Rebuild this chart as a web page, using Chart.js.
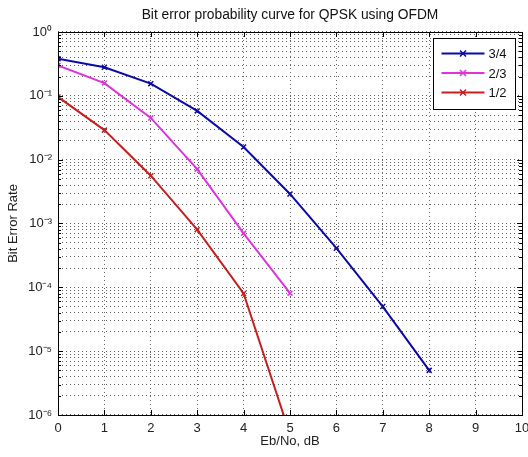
<!DOCTYPE html>
<html>
<head>
<meta charset="utf-8">
<script src="https://cdn.jsdelivr.net/npm/chart.js@4.4.1/dist/chart.umd.min.js"></script>
<style>
html,body{margin:0;padding:0;background:#fff;}
canvas{display:block;}
</style>
</head>
<body>
<canvas id="c" width="528" height="457"></canvas>
<script>
const ebno = [0, 1, 2, 3, 4, 5, 6, 7, 8];
const seriesLabels = ['3/4', '2/3', '1/2'];
const ber34 = [0.38, 0.28, 0.155, 0.058, 0.0158, 0.0029, 4.1e-4, 5e-5, 5e-6];
const ber23 = [0.30, 0.158, 0.045, 0.0071, 7e-4, 8.1e-5];
const ber12 = [0.096, 0.029, 0.0056, 8e-4, 8e-5, 5e-7];
const xTicks = [0, 1, 2, 3, 4, 5, 6, 7, 8, 9, 10];
const decadeExps = [-6, -5, -4, -3, -2, -1, 0];
const titleText = 'Bit error probability curve for QPSK using OFDM';
const xTitle = 'Eb/No, dB';
const yTitle = 'Bit Error Rate';

const SUP = {'0':'\u2070','1':'\u00B9','2':'\u00B2','3':'\u00B3','4':'\u2074','5':'\u2075','6':'\u2076','7':'\u2077','8':'\u2078','9':'\u2079','-':'\u207B'};
function supText(n){ return String(n).split('').map(c => SUP[c]).join(''); }

const yTickValues = [];
decadeExps.forEach(e => {
  for (let m = 1; m <= 9; m++) {
    if (e === 0 && m > 1) break;
    yTickValues.push(parseFloat((m * Math.pow(10, e)).toPrecision(3)));
  }
});
function isDecade(v){ const l = Math.log10(v); return Math.abs(l - Math.round(l)) < 1e-9; }

const FONT = "'Liberation Sans', Arial, Helvetica, sans-serif";
const colors = ['#0a0aa8', '#dd33dd', '#c42020'];
const seriesData = [ber34, ber23, ber12];

const datasets = seriesData.map((arr, i) => ({
  label: seriesLabels[i],
  data: arr.map((v, k) => ({x: ebno[k], y: v})),
  borderColor: colors[i],
  backgroundColor: colors[i],
  borderWidth: 2,
  pointStyle: 'crossRot',
  pointRadius: 3.5,
  pointBorderWidth: 1.5,
  pointHoverRadius: 3.5,
  tension: 0,
  fill: false
}));

const bgPlugin = {
  id: 'bg',
  beforeDraw(chart){
    const ctx = chart.ctx;
    ctx.save(); ctx.fillStyle = '#fff'; ctx.fillRect(0,0,chart.width,chart.height); ctx.restore();
  }
};

const boxPlugin = {
  id: 'matlabBox',
  afterDraw(chart){
    const ctx = chart.ctx;
    const a = chart.chartArea;
    const xs = chart.scales.x, ys = chart.scales.y;
    ctx.save();
    ctx.strokeStyle = '#000';
    ctx.lineWidth = 1;
    ctx.beginPath();
    xTicks.forEach(v => {
      const px = Math.round(xs.getPixelForValue(v)) + 0.5;
      ctx.moveTo(px, a.bottom); ctx.lineTo(px, a.bottom - 5);
      ctx.moveTo(px, a.top); ctx.lineTo(px, a.top + 5);
    });
    yTickValues.forEach(v => {
      const py = Math.round(ys.getPixelForValue(v)) + 0.5;
      const len = isDecade(v) ? 5 : 3;
      ctx.moveTo(a.left, py); ctx.lineTo(a.left + len, py);
      ctx.moveTo(a.right, py); ctx.lineTo(a.right - len, py);
    });
    ctx.stroke();
    ctx.strokeRect(Math.round(a.left) + 0.5, Math.round(a.top) + 0.5, Math.round(a.right - a.left), Math.round(a.bottom - a.top));

    // legend
    const lw = 82, lh = 71;
    const lx = Math.round(a.right - 7 - lw) + 0.5, ly = Math.round(a.top + 6) + 0.5;
    ctx.fillStyle = '#fff';
    ctx.fillRect(lx, ly, lw, lh);
    ctx.strokeStyle = '#000';
    ctx.strokeRect(lx, ly, lw, lh);
    ctx.font = '13px ' + FONT;
    ctx.textBaseline = 'middle';
    ctx.textAlign = 'left';
    chart.data.datasets.forEach((ds, i) => {
      const cy = ly + 15 + i * 19.5;
      ctx.strokeStyle = ds.borderColor;
      ctx.lineWidth = 2;
      ctx.beginPath(); ctx.moveTo(lx + 8, cy); ctx.lineTo(lx + 51, cy); ctx.stroke();
      const mx = lx + 29.5, r = 3;
      ctx.lineWidth = 1.5;
      ctx.beginPath();
      ctx.moveTo(mx - r, cy - r); ctx.lineTo(mx + r, cy + r);
      ctx.moveTo(mx - r, cy + r); ctx.lineTo(mx + r, cy - r);
      ctx.stroke();
      ctx.fillStyle = '#111';
      ctx.fillText(ds.label, lx + 55, cy + 1);
    });
    ctx.restore();
  }
};

new Chart(document.getElementById('c'), {
  type: 'line',
  data: { datasets },
  options: {
    responsive: false,
    animation: false,
    devicePixelRatio: 1,
    layout: { padding: { top: 0, right: 6, left: 0, bottom: 0 } },
    plugins: {
      legend: { display: false },
      tooltip: { enabled: false },
      title: {
        display: true,
        text: titleText,
        fullSize: false,
        color: '#111',
        font: { family: FONT, size: 13.8, weight: 'normal' },
        padding: { top: 7, bottom: 8.4 }
      }
    },
    scales: {
      x: {
        type: 'linear',
        min: 0, max: 10,
        afterBuildTicks(scale){ scale.ticks = xTicks.map(v => ({value: v})); },
        afterFit(scale){ scale.height = 42; scale.paddingRight = 0; scale.paddingLeft = 0; },
        ticks: { color: '#222', font: { family: FONT, size: 13 }, padding: 6, autoSkip: false, maxRotation: 0,
          callback: v => String(v) },
        grid: { color: '#606060', lineWidth: 1, drawTicks: false },
        border: { display: false, dash: [1, 3] },
        title: { display: true, text: xTitle, color: '#222', font: { family: FONT, size: 13 }, padding: { top: 0, bottom: 8 } }
      },
      y: {
        type: 'logarithmic',
        min: 1e-6, max: 1,
        afterBuildTicks(scale){ scale.ticks = yTickValues.map(v => ({value: v, major: isDecade(v)})); },
        afterFit(scale){ scale.width = 58; scale.paddingTop = 0; scale.paddingBottom = 0; },
        ticks: { color: '#222', font: { family: FONT, size: 13 }, padding: 6, autoSkip: false,
          callback: v => isDecade(v) ? '10' + supText(Math.round(Math.log10(v))) : '' },
        grid: { color: '#606060', lineWidth: 1, drawTicks: false },
        border: { display: false, dash: [1, 3] },
        title: { display: true, text: yTitle, color: '#222', font: { family: FONT, size: 13 }, padding: { top: 6, bottom: 0 } }
      }
    }
  },
  plugins: [bgPlugin, boxPlugin]
});
</script>
</body>
</html>
